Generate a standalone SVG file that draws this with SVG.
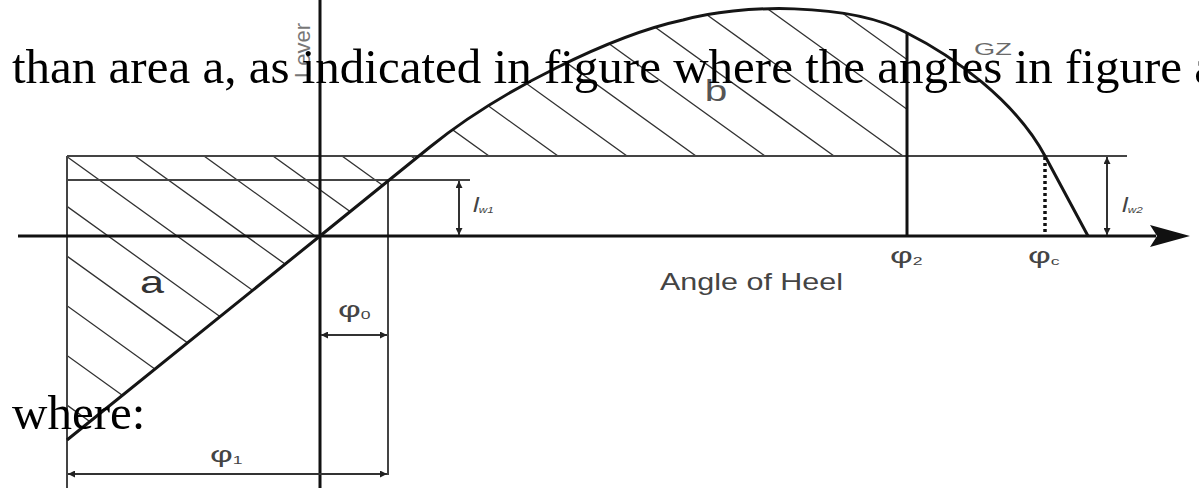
<svg xmlns="http://www.w3.org/2000/svg" width="1199" height="488" viewBox="0 0 1199 488">
<style>
.ax{stroke:#111;stroke-width:3;fill:none}
.cv{stroke:#151515;stroke-width:3;fill:none;stroke-linejoin:round}
.thin{stroke:#444;stroke-width:2;fill:none}
.hatch{stroke:#333;stroke-width:1.3}
.dim{stroke:#333;stroke-width:2;fill:none;marker-start:url(#ah);marker-end:url(#ah)}
.doc{font-family:"Liberation Serif","Times New Roman",serif;font-size:49px;fill:#000}
.lbl{font-family:"Liberation Sans",Arial,sans-serif;fill:#444}
</style>
<defs>
<marker id="ah" viewBox="0 0 10 10" refX="10" refY="5" markerWidth="8" markerHeight="7" orient="auto-start-reverse" markerUnits="userSpaceOnUse">
<path d="M0,0 L10,5 L0,10 Z" fill="#222"/>
</marker>
<clipPath id="clipA"><path d="M67,156 L419,156 L67,440 Z"/></clipPath>
<clipPath id="clipB"><path d="M419,156 L430,147 C500,90 613,35 683,20 C738,4 850,2 907,33 L907,156 Z"/></clipPath>
</defs>
<rect width="1199" height="488" fill="#fff"/>

<g id="hatch-a" clip-path="url(#clipA)">
<path class="hatch" d="M-598,-24 L152,516 M-529,-24 L221,516 M-460,-24 L290,516 M-391,-24 L359,516 M-322,-24 L428,516 M-253,-24 L497,516 M-184,-24 L566,516 M-115,-24 L635,516 M-46,-24 L704,516 M23,-24 L773,516 M92,-24 L842,516 M161,-24 L911,516"/>
</g>
<g id="hatch-b" clip-path="url(#clipB)">
<path class="hatch" d="M170,-24 L920,516 M239,-24 L989,516 M308,-24 L1058,516 M377,-24 L1127,516 M446,-24 L1196,516 M515,-24 L1265,516 M584,-24 L1334,516 M653,-24 L1403,516 M722,-24 L1472,516 M791,-24 L1541,516 M860,-24 L1610,516"/>
</g>

<g id="connectors">
<line class="thin" x1="67" y1="156" x2="1127" y2="156"/>
<line class="thin" x1="67" y1="180" x2="470" y2="180"/>
<line class="thin" x1="67" y1="156" x2="67" y2="488" stroke-width="2.5"/>
<line class="thin" x1="388" y1="180" x2="388" y2="475" stroke-width="2.5"/>
<line class="ax" x1="18" y1="236" x2="1156" y2="236"/>
<path d="M1150,225 L1190,236 L1150,247 L1157,236 Z" fill="#111"/>
<line class="ax" x1="320" y1="0" x2="320" y2="488"/>
<path class="cv" d="M67,440 L320,236 L430,147 C500,90 613,35 683,20 C738,4 850,2 907,33 C952,55.5 1015,100 1045,156 L1088,236"/>
<line class="ax" x1="907" y1="33" x2="907" y2="236" stroke-width="2.5"/>
<line x1="1045" y1="157" x2="1045" y2="236" stroke="#111" stroke-width="3.5" stroke-dasharray="3,3"/>
<line class="dim" x1="459" y1="181" x2="459" y2="235"/>
<line class="dim" x1="1107" y1="157" x2="1107" y2="235"/>
<line class="dim" x1="321" y1="335" x2="387" y2="335"/>
<line class="dim" x1="68" y1="474" x2="387" y2="474"/>
</g>

<g id="labels" class="lbl">
<text id="lever" transform="translate(310,78) rotate(-90)" font-size="22" fill="#777">Lever</text>
<text id="label-a" transform="translate(152,293) scale(1.35,1)" font-size="32" text-anchor="middle" fill="#333">a</text>
<text id="label-b" transform="translate(716,101) scale(1.35,1)" font-size="30" text-anchor="middle" fill="#555">b</text>
<text id="label-gz" transform="translate(974,55) scale(1.6,1)" font-size="17" fill="#6a6a6a">GZ</text>
<text id="label-heel" x="660" y="290" font-size="24" textLength="183" lengthAdjust="spacingAndGlyphs" fill="#444">Angle of Heel</text>
<text id="phi0" transform="translate(338,317) scale(1.6,1)" font-size="22">φ<tspan font-size="11" dy="2">0</tspan></text>
<text id="phi1" transform="translate(210,462) scale(1.6,1)" font-size="22">φ<tspan font-size="11" dy="2">1</tspan></text>
<text id="phi2" transform="translate(890,263) scale(1.6,1)" font-size="22">φ<tspan font-size="11" dy="2">2</tspan></text>
<text id="phic" transform="translate(1028,263) scale(1.6,1)" font-size="22">φ<tspan font-size="11" dy="2">c</tspan></text>
<text id="lw1" transform="translate(473,212) scale(1.3,1)" font-size="20" font-style="italic">l<tspan font-size="9" dy="1">w1</tspan></text>
<text id="lw2" transform="translate(1122,212) scale(1.3,1)" font-size="20" font-style="italic">l<tspan font-size="9" dy="1">w2</tspan></text>
</g>

<g id="document-text">
<text class="doc" x="12" y="83">than area a, as indicated in figure where the angles in figure a</text>
<text class="doc" x="12" y="429">where:</text>
</g>
</svg>
